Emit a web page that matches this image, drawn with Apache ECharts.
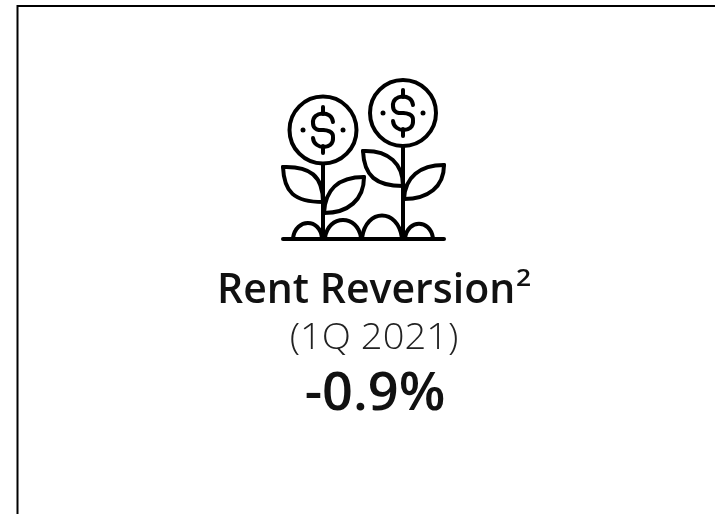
<!DOCTYPE html>
<html>
<head>
<meta charset="utf-8">
<style>
  html, body { margin: 0; padding: 0; background: #fff; }
  #chart { width: 715px; height: 514px; }
</style>
<script src="https://cdn.jsdelivr.net/npm/echarts@6/dist/echarts.min.js"></script>
</head>
<body>
<div id="chart"></div>
<script>
var metricName = 'Rent Reversion';
var footnoteMark = '2';
var periodLabel = '(1Q 2021)';
var metricValue = '-0.9%';

var chart = echarts.init(document.getElementById('chart'));

var stroke = { stroke: '#000', lineWidth: 4, fill: null, lineCap: 'round', lineJoin: 'round' };

function line(x1, y1, x2, y2) {
  return { type: 'line', shape: { x1: x1, y1: y1, x2: x2, y2: y2 }, style: stroke };
}

function curve(x1, y1, c1x, c1y, c2x, c2y, x2, y2) {
  return {
    type: 'bezierCurve',
    shape: { x1: x1, y1: y1, cpx1: c1x, cpy1: c1y, cpx2: c2x, cpy2: c2y, x2: x2, y2: y2 },
    style: stroke
  };
}

function label(text, x, y, align, size, weight, color, stretch) {
  return {
    type: 'text',
    x: x,
    y: y,
    scaleX: stretch,
    style: {
      text: text,
      align: align,
      verticalAlign: 'top',
      fontFamily: 'Open Sans',
      fontSize: size,
      fontWeight: weight,
      fill: color
    }
  };
}

// coin with dollar sign
function coin(cx, cy, r) {
  return [
    { type: 'circle', shape: { cx: cx, cy: cy, r: r }, style: stroke },
    curve(cx + 10, cy - 8, cx + 9, cy - 20, cx - 11, cy - 19, cx - 10, cy - 7),
    curve(cx - 10, cy - 7, cx - 10, cy + 1, cx - 2, cy, cx, cy),
    curve(cx, cy, cx + 3, cy, cx + 11, cy + 1, cx + 10, cy + 8),
    curve(cx + 10, cy + 8, cx + 11, cy + 20, cx - 9, cy + 20, cx - 10, cy + 8),
    line(cx, cy - 23, cx, cy - 16),
    line(cx, cy + 16, cx, cy + 23),
    { type: 'circle', shape: { cx: cx - 20, cy: cy, r: 2.5 }, style: { fill: '#000' } },
    { type: 'circle', shape: { cx: cx + 20, cy: cy, r: 2.5 }, style: { fill: '#000' } }
  ];
}

// leaf from tip to stem, two edges
function leaf(tx, ty, bx, by, a, b, c, d, e, f, g, h) {
  return [curve(tx, ty, a, b, c, d, bx, by), curve(tx, ty, e, f, g, h, bx, by)];
}

chart.setOption({
  backgroundColor: '#fff',
  graphic: [
    { type: 'rect', shape: { x: 17.5, y: 6, width: 900, height: 900 }, style: { stroke: '#000', lineWidth: 2, fill: null } },
    {
      type: 'group',
      x: 270,
      y: 70,
      children: coin(53, 60, 33.5).concat(coin(133, 43, 33)).concat(
        [line(53, 95, 53, 168), line(133, 77, 133, 168)],
        leaf(13, 97, 53, 132, 40, 96, 53, 106, 14, 122, 24, 132),
        leaf(94, 107, 54, 143, 68, 107, 55, 120, 94, 130, 78, 143),
        leaf(93, 81, 133, 116, 119, 80, 133, 94, 94, 106, 106, 116),
        leaf(174, 95, 134, 129, 150, 95, 135, 107, 174, 117, 158, 129),
        [
          line(13, 169, 174, 169),
          curve(23, 168, 26, 148, 50, 148, 52, 168),
          curve(55, 168, 58, 144, 88, 144, 91, 168),
          curve(92, 168, 96, 138, 128, 138, 132, 168),
          curve(135, 168, 138, 149, 160, 149, 163, 168)
        ]
      )
    },
    label(metricName, 217, 271, 'left', 41, 600, '#111', 1),
    label(footnoteMark, 516, 267, 'left', 24, 600, '#111', 1.1),
    label(periodLabel, 374, 321, 'center', 36, 300, '#222', 1.06),
    label(metricValue, 375, 368, 'center', 53, 600, '#111', 1.02)
  ]
});
</script>
</body>
</html>
